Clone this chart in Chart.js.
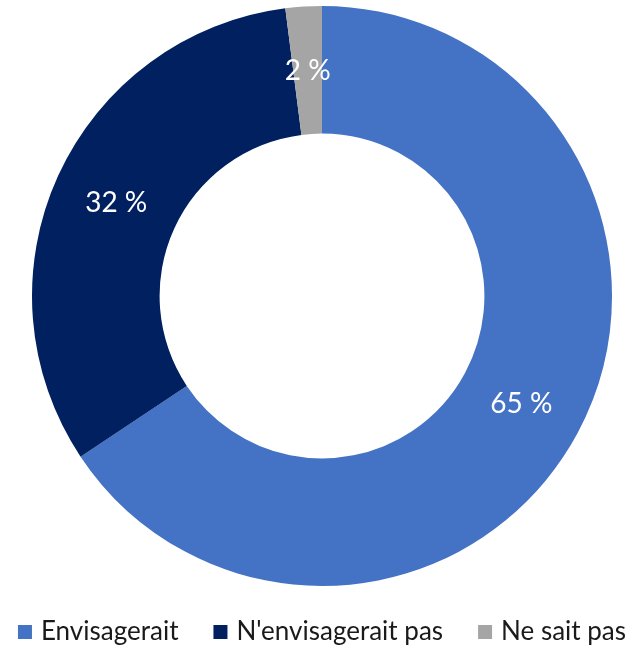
<!DOCTYPE html>
<html>
<head>
<meta charset="utf-8">
<script src="https://cdn.jsdelivr.net/npm/chart.js@4/dist/chart.umd.min.js"></script>
<style>
html,body{margin:0;padding:0;background:#fff;}
#wrap{width:630px;height:647px;position:relative;}
</style>
</head>
<body>
<div id="wrap"><canvas id="c" width="630" height="647"></canvas></div>
<script>
const categories = ["Envisagerait", "N'envisagerait pas", "Ne sait pas"];
const values = [65, 32, 2];
const valueLabels = ["65 %", "32 %", "2 %"];
const colors = ["#4472C4", "#002060", "#A5A5A5"];

const FONT = "Lato, 'Open Sans', sans-serif";

const labelPlugin = {
  id: 'sliceLabels',
  afterDatasetsDraw(chart) {
    const ctx = chart.ctx;
    const meta = chart.getDatasetMeta(0);
    ctx.save();
    ctx.fillStyle = '#ffffff';
    ctx.font = '28px ' + FONT;
    ctx.textAlign = 'center';
    ctx.textBaseline = 'middle';
    meta.data.forEach((arc, i) => {
      const p = arc.tooltipPosition();
      ctx.fillText(valueLabels[i], p.x, p.y + 1);
    });
    ctx.restore();
  }
};

const legendPlugin = {
  id: 'customLegend',
  afterDraw(chart) {
    const ctx = chart.ctx;
    ctx.save();
    ctx.font = '26px ' + FONT;
    ctx.textBaseline = 'middle';
    const box = 14, gapBox = 9, gapItem = 35;
    const widths = categories.map(t => ctx.measureText(t).width);
    let total = 0;
    widths.forEach((w, i) => { total += box + gapBox + w + (i < widths.length - 1 ? gapItem : 0); });
    const cx = (chart.chartArea.left + chart.chartArea.right) / 2;
    let x = cx - total / 2;
    const y = 632;
    categories.forEach((t, i) => {
      ctx.fillStyle = colors[i];
      ctx.fillRect(x, y - box / 2, box, box);
      x += box + gapBox;
      ctx.fillStyle = '#1a1a1a';
      ctx.fillText(t, x, y);
      x += widths[i] + gapItem;
    });
    ctx.restore();
  }
};

new Chart(document.getElementById('c'), {
  type: 'doughnut',
  data: {
    labels: categories,
    datasets: [{
      data: values,
      backgroundColor: colors,
      borderWidth: 0,
      hoverOffset: 0
    }]
  },
  options: {
    responsive: false,
    animation: false,
    cutout: '56%',
    layout: { padding: { left: 14, right: 0, top: 6, bottom: 61 } },
    plugins: {
      legend: { display: false },
      tooltip: { enabled: false }
    }
  },
  plugins: [labelPlugin, legendPlugin]
});
</script>
</body>
</html>
